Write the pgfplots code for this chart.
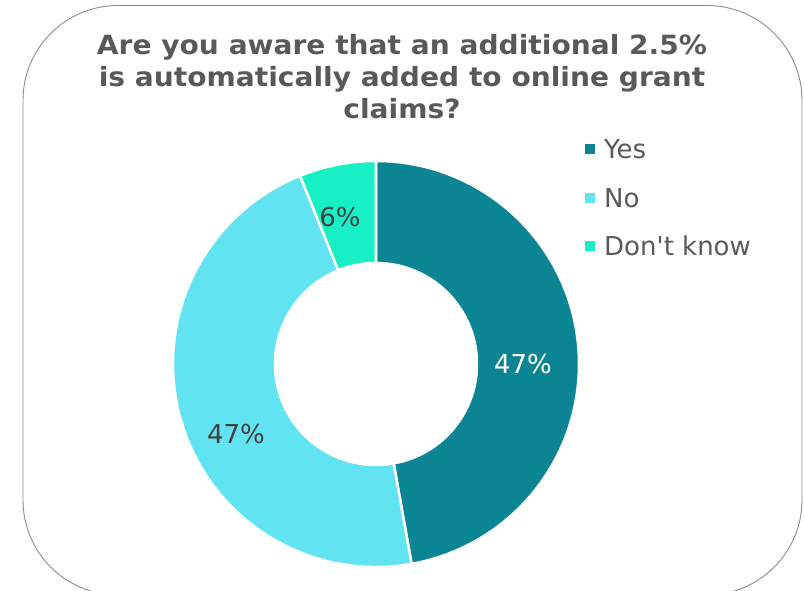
\documentclass[border=0pt]{standalone}
\usepackage{pgfplots}
\pgfplotsset{compat=1.18}
\usepackage{pgfplotstable}
\usepackage{fontspec}
\setmainfont{DejaVu Sans}
\newfontfamily\plainfont{DejaVu Sans}
\newfontfamily\titlefont{DejaVu Sans}[FakeStretch=1.06]
\definecolor{cYes}{RGB}{11,132,148}
\definecolor{cNo}{RGB}{98,227,242}
\definecolor{cDK}{RGB}{22,240,196}
\definecolor{titlegray}{RGB}{89,89,89}
\definecolor{labelgray}{RGB}{64,64,64}
\definecolor{bordergray}{RGB}{140,140,140}

\pgfplotstableread{
label value
Yes 47.2
No 46.7
DK 6.1
}\piedata

\newcommand\donutslice[3]{%
  \fill[#1, draw=white, line width=2.5pt]
    ([shift={(#2:203pt)}]axis cs:376,227) arc[start angle=#2, end angle=#3, radius=203pt]
    -- ([shift={(#3:101pt)}]axis cs:376,227) arc[start angle=#3, end angle=#2, radius=101pt]
    -- cycle;}

\begin{document}
\begin{tikzpicture}
\pgfplotstablegetelem{0}{value}\of\piedata \let\vA\pgfplotsretval
\pgfplotstablegetelem{1}{value}\of\piedata \let\vB\pgfplotsretval
\pgfplotstablegetelem{2}{value}\of\piedata \let\vC\pgfplotsretval
\pgfmathsetmacro\tot{\vA+\vB+\vC}
\pgfmathsetmacro\aA{90}
\pgfmathsetmacro\aB{90-360*(\vA/\tot)}
\pgfmathsetmacro\aC{\aB-360*(\vB/\tot)}
\pgfmathsetmacro\aD{\aC-360*(\vC/\tot)}
\path[use as bounding box] (0,0) rectangle (804pt,591pt);
\clip (0,0) rectangle (804pt,591pt);
\begin{axis}[at={(0,0)}, anchor=south west, width=804pt, height=591pt,
  scale only axis, xmin=0, xmax=804, ymin=0, ymax=591, hide axis, clip=false]
\addplot[draw=none] coordinates {(0,0) (804,591)};
\draw[bordergray, line width=0.9pt, rounded corners=95pt]
  (axis cs:23,-4) rectangle (axis cs:802,585.5);
\donutslice{cYes}{\aA}{\aB}
\donutslice{cNo}{\aB}{\aC}
\donutslice{cDK}{\aC}{\aD}
\node[align=center, font=\titlefont\bfseries\fontsize{26.5}{32}\selectfont, text=titlegray, inner sep=0pt]
  at (axis cs:402,514) {Are you aware that an additional 2.5\%\\is automatically added to online grant\\claims?};
\node[font=\plainfont\fontsize{26}{30}\selectfont, text=white, inner sep=0pt] at (axis cs:523,227) {47\%};
\node[font=\plainfont\fontsize{26}{30}\selectfont, text=labelgray, inner sep=0pt] at (axis cs:236,157) {47\%};
\node[font=\plainfont\fontsize{26}{30}\selectfont, text=labelgray, inner sep=0pt] at (axis cs:340,374) {6\%};
\fill[cYes] (axis cs:585,437) rectangle (axis cs:595,447);
\fill[cNo] (axis cs:585,388) rectangle (axis cs:595,398);
\fill[cDK] (axis cs:585,340) rectangle (axis cs:595,350);
\node[font=\plainfont\fontsize{26}{30}\selectfont, text=titlegray, inner sep=0pt, anchor=base west] at (axis cs:604,432) {Yes};
\node[font=\plainfont\fontsize{26}{30}\selectfont, text=titlegray, inner sep=0pt, anchor=base west] at (axis cs:604,383.5) {No};
\node[font=\plainfont\fontsize{26}{30}\selectfont, text=titlegray, inner sep=0pt, anchor=base west] at (axis cs:604,335) {Don't know};
\end{axis}
\end{tikzpicture}
\end{document}
